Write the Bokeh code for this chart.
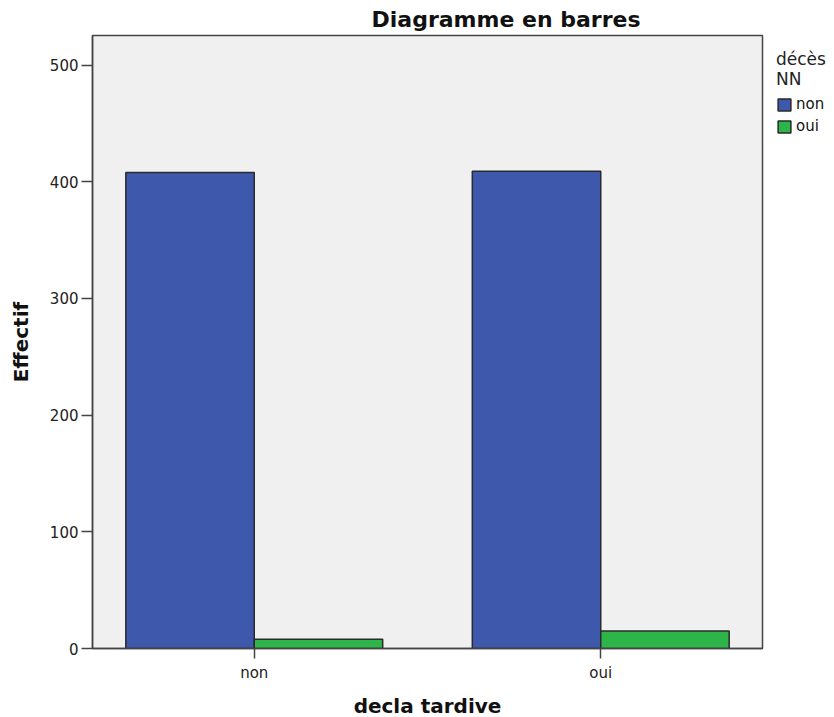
from bokeh.plotting import figure
from bokeh.models import ColumnDataSource, FactorRange, Range1d, Legend, LegendItem, FixedTicker
from bokeh.transform import dodge
from bokeh.embed import file_html
from bokeh.resources import INLINE

# ---- data ----
decla = ["non", "oui"]            # decla tardive categories
deces_non = [408, 409]            # décès NN = non
deces_oui = [8, 15]               # décès NN = oui
y_ticks = [0, 100, 200, 300, 400, 500]

BLUE = "#3E58AC"
GREEN = "#2EB54A"
FONT = "DejaVu Sans"

source = ColumnDataSource(dict(decla=decla, non=deces_non, oui=deces_oui))

p = figure(
    x_range=FactorRange(factors=decla, factor_padding=0.071, range_padding=0),
    y_range=Range1d(0, 525.3),
    frame_width=670, frame_height=613,
    min_border_left=92, min_border_right=64, min_border_top=35, min_border_bottom=60,
    output_backend="svg", toolbar_location=None,
    title="Diagramme en barres",
)

p.background_fill_color = "#F0F0F0"
p.border_fill_color = "white"
p.outline_line_color = "#444444"
p.outline_line_width = 1.5
p.xgrid.visible = False
p.ygrid.visible = False

r1 = p.vbar(x=dodge("decla", -0.1985, range=p.x_range), top="non", width=0.397, source=source,
            fill_color=BLUE, line_color="#2a2a2a", line_width=1.5)
r2 = p.vbar(x=dodge("decla", 0.1985, range=p.x_range), top="oui", width=0.397, source=source,
            fill_color=GREEN, line_color="#2a2a2a", line_width=1.5)

# title
p.title.text_font = FONT
p.title.text_font_size = "22px"
p.title.text_font_style = "bold"
p.title.text_color = "#111111"
p.title.align = "left"
p.title.offset = 279
p.title.standoff = 8

# axes
p.yaxis.ticker = FixedTicker(ticks=y_ticks)
p.yaxis.minor_tick_line_color = None
p.yaxis.major_tick_out = 11
p.yaxis.major_tick_in = 0
p.yaxis.major_label_standoff = 3
p.yaxis.axis_label = "Effectif"
p.yaxis.axis_label_standoff = 14
p.xaxis.axis_label = "decla tardive"
p.xaxis.major_tick_out = 10
p.xaxis.major_tick_in = 0
p.xaxis.major_label_standoff = 5
p.xaxis.axis_label_standoff = 9
for ax in (p.xaxis[0], p.yaxis[0]):
    ax.axis_line_color = "#444444"
    ax.axis_line_width = 1.5
    ax.major_tick_line_color = "#444444"
    ax.major_tick_line_width = 1.5
    ax.major_label_text_font = FONT
    ax.major_label_text_font_size = "15px"
    ax.major_label_text_color = "#222222"
    ax.axis_label_text_font = FONT
    ax.axis_label_text_font_size = "20px"
    ax.axis_label_text_font_style = "bold"
    ax.axis_label_text_color = "#111111"

# legend
legend = Legend(
    items=[LegendItem(label="non", renderers=[r1]), LegendItem(label="oui", renderers=[r2])],
    location="top_left",
    orientation="vertical",
    title="décès\nNN",
    title_text_font=FONT, title_text_font_size="17px", title_text_color="#222222",
    title_text_font_style="normal", title_text_align="center", title_standoff=6,
    glyph_width=16, glyph_height=15, label_height=15, label_standoff=4,
    spacing=4, padding=0, margin=14,
    label_text_font=FONT, label_text_font_size="15px", label_text_color="#111111",
    border_line_color=None, background_fill_alpha=0,
)
p.add_layout(legend, "right")

html = file_html(p, INLINE)
open("out.html", "w").write(html)
